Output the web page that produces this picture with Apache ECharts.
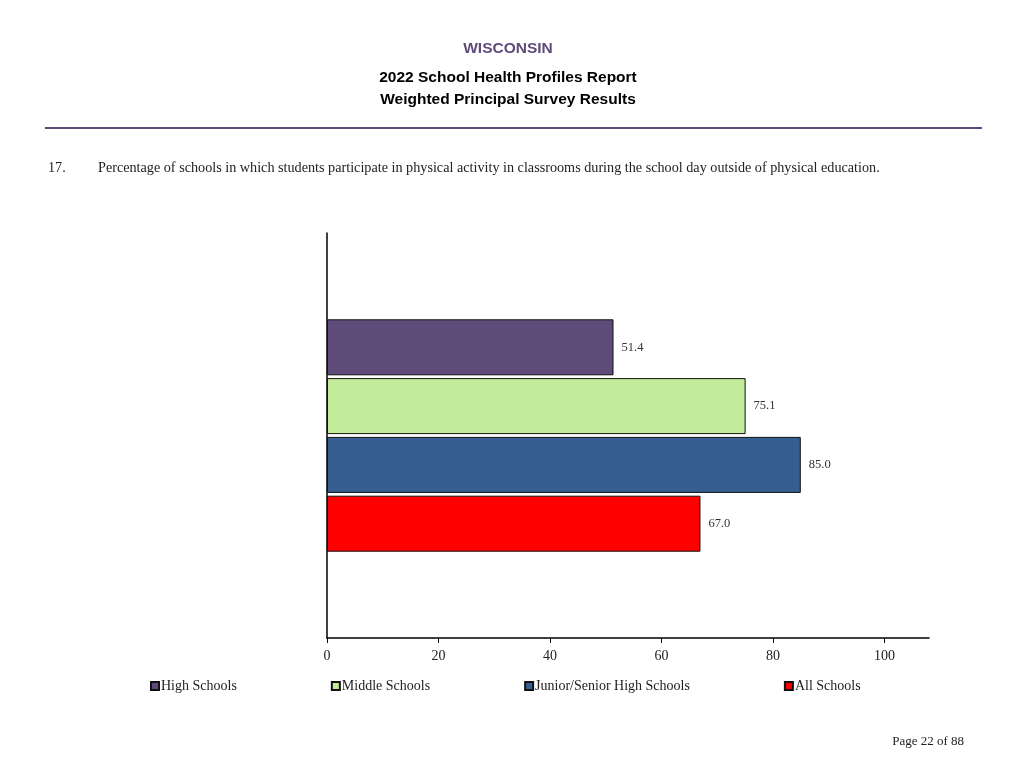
<!DOCTYPE html>
<html>
<head>
<meta charset="utf-8">
<script src="https://cdn.jsdelivr.net/npm/echarts@6/dist/echarts.min.js"></script>
<style>html,body{margin:0;padding:0;background:#fff;}#c{width:1024px;height:768px;}</style>
</head>
<body>
<div id="c"></div>
<script>
const seriesNames = ['High Schools', 'Middle Schools', 'Junior/Senior High Schools', 'All Schools'];
const seriesValues = [51.4, 75.1, 85.0, 67.0];
const seriesColors = ['#5E4B7A', '#C3EC9A', '#365F91', '#FF0000'];
const xTickValues = [0, 20, 40, 60, 80, 100];
const stateName = 'WISCONSIN';
const titleLines = ['2022 School Health Profiles Report', 'Weighted Principal Survey Results'];
const questionNum = '17.';
const questionText = 'Percentage of schools in which students participate in physical activity in classrooms during the school day outside of physical education.';
const pageText = 'Page 22 of 88';

const serif = '"Liberation Serif", "Times New Roman", serif';
const sans = '"Liberation Sans", Arial, sans-serif';

const chart = echarts.init(document.getElementById('c'));
chart.setOption({
  animation: false,
  backgroundColor: '#fff',
  grid: { left: 327, right: 95, top: 233, bottom: 130, containLabel: false },
  xAxis: {
    type: 'value', min: 0, max: 108,
    axisLine: { show: true, lineStyle: { color: '#000', width: 1.5 } },
    axisTick: { show: true, length: 5, lineStyle: { color: '#000' }, customValues: xTickValues },
    axisLabel: { customValues: xTickValues, color: '#222', fontFamily: serif, fontSize: 14, margin: 11 },
    splitLine: { show: false }
  },
  yAxis: {
    type: 'category', data: [''], inverse: true,
    axisLine: { show: true, lineStyle: { color: '#000', width: 1.5 } },
    axisTick: { show: false }, axisLabel: { show: false }
  },
  legend: {
    left: 150, top: 679, padding: 0, itemWidth: 8, itemHeight: 8, itemGap: 94, icon: 'rect',
    textStyle: { fontFamily: serif, fontSize: 14, color: '#222', padding: [0, 0, 0, -3] },
    data: seriesNames
  },
  series: seriesNames.map((n, i) => ({
    name: n, type: 'bar', data: [seriesValues[i]],
    barWidth: 56, barGap: '5%',
    itemStyle: { color: seriesColors[i], borderColor: '#111', borderWidth: 1 },
    label: { show: true, position: 'right', distance: 8, fontFamily: serif, fontSize: 12.5, color: '#333',
      formatter: p => p.value.toFixed(1) }
  })),
  graphic: [
    { type: 'text', x: 508, y: 49, style: { text: stateName, font: 'bold 15.5px ' + sans, fill: '#5E4B7A', align: 'center', verticalAlign: 'middle' } },
    { type: 'text', x: 508, y: 78, style: { text: titleLines[0], font: 'bold 15.5px ' + sans, fill: '#000', align: 'center', verticalAlign: 'middle' } },
    { type: 'text', x: 508, y: 100, style: { text: titleLines[1], font: 'bold 15.5px ' + sans, fill: '#000', align: 'center', verticalAlign: 'middle' } },
    { type: 'line', shape: { x1: 45, y1: 128, x2: 982, y2: 128 }, style: { stroke: '#5E4B7A', lineWidth: 2 } },
    { type: 'text', x: 48, y: 168, style: { text: questionNum, font: '14.2px ' + serif, fill: '#222', verticalAlign: 'middle' } },
    { type: 'text', x: 98, y: 168, style: { text: questionText, font: '14.2px ' + serif, fill: '#222', verticalAlign: 'middle' } },
    { type: 'text', x: 964, y: 742, style: { text: pageText, font: '13px ' + serif, fill: '#222', align: 'right', verticalAlign: 'middle' } }
  ]
});
</script>
</body>
</html>
